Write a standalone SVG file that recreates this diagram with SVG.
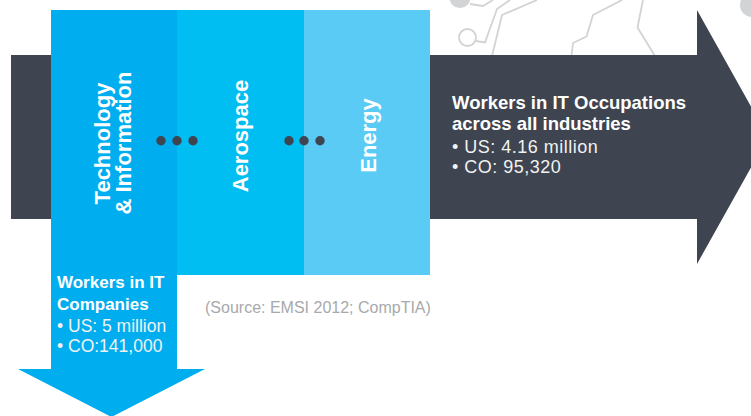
<svg xmlns="http://www.w3.org/2000/svg" width="751" height="416" viewBox="0 0 751 416">
  <style>
    .circuit { fill: none; stroke: #D1D3D4; stroke-width: 1.8; stroke-linejoin: round; }
    .pad { fill: #D1D3D4; }
    .dark { fill: #3E4450; }
    .dot { fill: #3E4450; }
    .sector { font-family: "Liberation Sans", Arial, sans-serif; font-weight: bold; font-size: 22px; fill: #FFFFFF; text-anchor: middle; }
    .head { font-family: "Liberation Sans", Arial, sans-serif; font-weight: bold; fill: #FFFFFF; }
    .item { font-family: "Liberation Sans", Arial, sans-serif; fill: #F1F2F2; }
    .source { font-family: "Liberation Sans", Arial, sans-serif; font-size: 16px; fill: #A7A9AC; }
  </style>
  <rect width="751" height="416" fill="#FFFFFF"/>

  <!-- circuit-board ornament, top right -->
  <g id="circuit">
    <circle class="pad" cx="460" cy="-2.5" r="10.5"/>
    <polyline class="circuit" points="470,4 483,6 493,0"/>
    <circle class="circuit" cx="467.5" cy="37.5" r="8.5"/>
    <polyline class="circuit" points="476,41 485,42.5 497,9 510,0"/>
    <polyline class="circuit" points="492,56 502,15 537,0"/>
    <polyline class="circuit" points="571.5,56 573,43 586.5,36.5 593,15 622,0"/>
    <polyline class="circuit" points="655,56 637.5,27.5 643,0"/>
    <circle class="pad" cx="752" cy="5" r="12"/>
  </g>

  <!-- all-industries arrow -->
  <g id="industries-arrow">
    <polygon class="dark" points="11,55 697,55 697,10 768,137 697,264 697,219 11,219"/>
    <text class="head" font-size="18.5"><tspan x="452" y="109">Workers in IT Occupations</tspan><tspan x="452" y="130">across all industries</tspan></text>
    <text class="item" font-size="18" letter-spacing="0.5"><tspan x="452" y="152.5">• US: 4.16 million</tspan><tspan x="452" y="172.5">• CO: 95,320</tspan></text>
  </g>

  <!-- sector columns -->
  <g id="aerospace">
    <rect x="177" y="10" width="127" height="265" fill="#00BDF2"/>
    <text class="sector" transform="translate(248,136) rotate(-90)">Aerospace</text>
  </g>
  <g id="energy">
    <rect x="304" y="10" width="126" height="265" fill="#59CBF5"/>
    <text class="sector" transform="translate(376,135.5) rotate(-90)">Energy</text>
  </g>
  <g id="tech-info">
    <path d="M51,10 H177 V369 H205 L111.5,417 L18,369 H51 Z" fill="#00AEEF"/>
    <text class="sector" transform="translate(110,143.5) rotate(-90)">Technology</text>
    <text class="sector" transform="translate(131,143) rotate(-90)">&amp; Information</text>
    <text class="head" font-size="17"><tspan x="57" y="288">Workers in IT</tspan><tspan x="57" y="310">Companies</tspan></text>
    <text class="item" font-size="17.5"><tspan x="57" y="332">• US: 5 million</tspan><tspan x="57" y="352">• CO:141,000</tspan></text>
  </g>

  <!-- ellipsis separators between sectors -->
  <g id="connectors">
    <circle class="dot" cx="161" cy="140.7" r="4.7"/>
    <circle class="dot" cx="177" cy="140.7" r="4.7"/>
    <circle class="dot" cx="193" cy="140.7" r="4.7"/>
    <circle class="dot" cx="289" cy="140.7" r="4.7"/>
    <circle class="dot" cx="304" cy="140.7" r="4.7"/>
    <circle class="dot" cx="320" cy="140.7" r="4.7"/>
  </g>

  <g id="source">
    <text class="source" x="205" y="313">(Source: EMSI 2012; CompTIA)</text>
  </g>
</svg>
